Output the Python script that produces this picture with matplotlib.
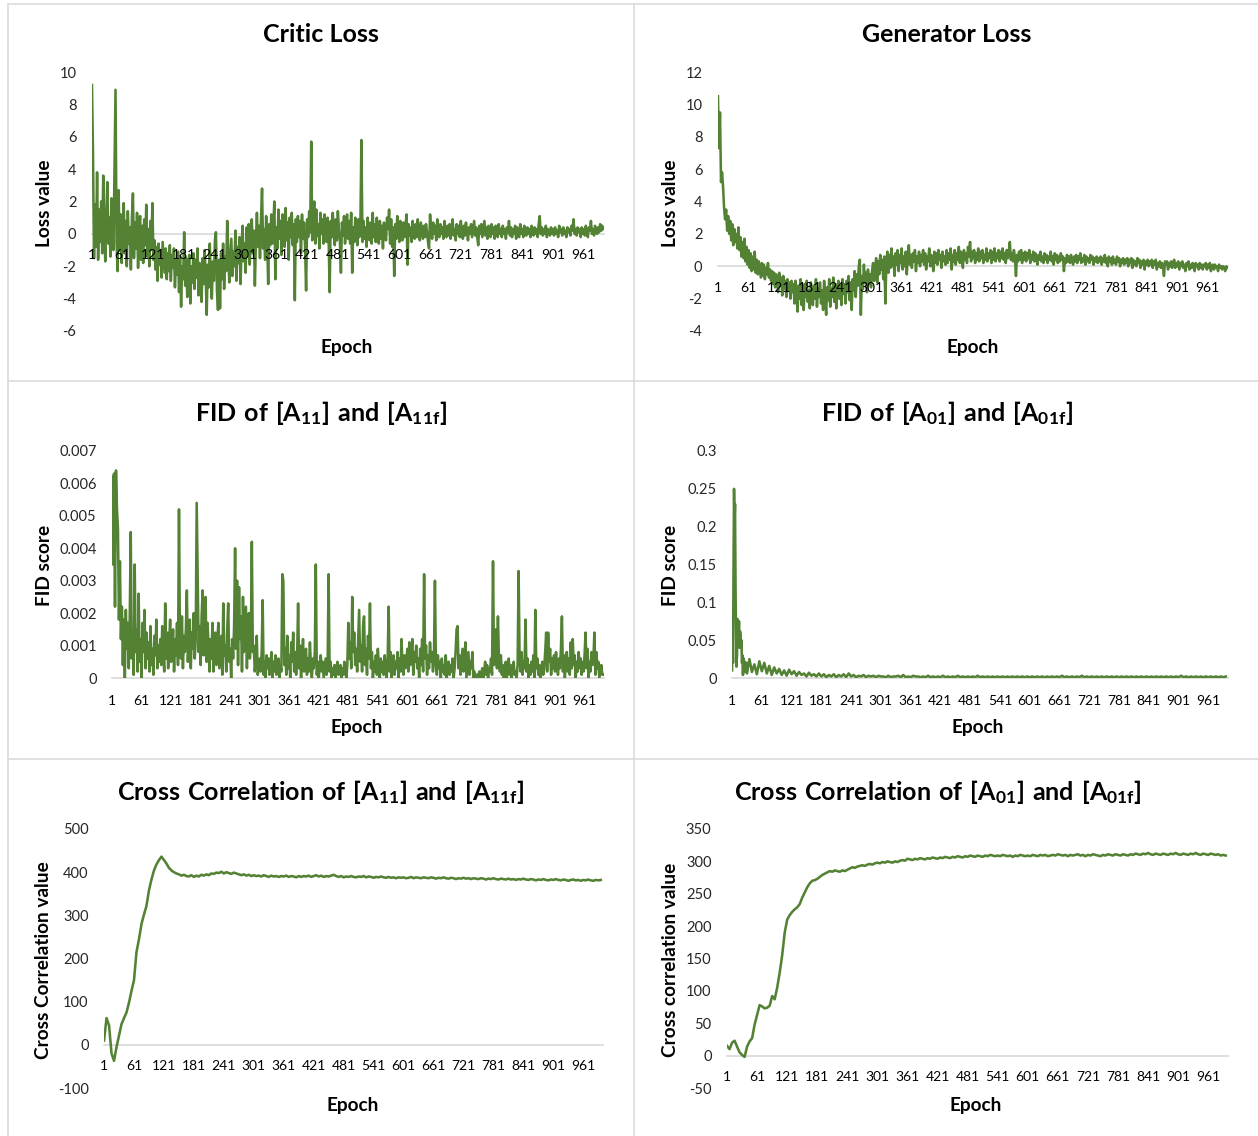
import matplotlib
matplotlib.use("Agg")
import matplotlib.pyplot as plt
from matplotlib.lines import Line2D

# ---------------- data ----------------
epochs2 = list(range(1, 1000, 2))         # noisy series sampled every 2 epochs (1, 3, ..., 999)
epochs5 = list(range(1, 1001, 5))         # smooth series sampled every 5 epochs (1, 6, ..., 996)
xtick_epochs = list(range(1, 1001, 60))   # 1, 61, ..., 961
xtick_labels = [str(e) for e in xtick_epochs]

critic_loss = [
    9.2, 5.0, -1.5, 1.8, -0.8, 3.8, -1.6, 1.5, -0.5, 2.0, -1.2, 3.6, 0.3, -1.7, 1.2, 3.2, -0.6, 1.0, -1.4, 2.2, 0.1, -1.0, 3.8, 8.9, -0.5,
    -2.3, 2.7, -1.0, 1.2, -1.8, 0.6, 1.9, -1.2, 0.8, -2.0, 1.4, -0.6, 0.4, -2.2, 1.0, 2.5, -1.5, 0.7, -0.9, 1.3, -2.1, 0.2, 1.1, -1.6, 0.5,
    -1.8, 0.9, -0.7, 1.8, -1.4, 0.3, -2.0, 0.8, -1.0, 1.9, -1.6, -0.4, -2.2, -0.8, -2.9, -0.6, -1.9, -1.0, -2.7, -0.5, -1.5, -2.4, -0.9, -2.8, -1.2,
    -2.3, -0.7, -2.9, -1.3, -2.1, -0.9, -3.3, -1.6, -2.5, -1.1, -3.6, -1.4, -4.5, -2.0, -2.8, 0.1, -3.2, -1.5, -3.9, -2.2, -1.3, -4.3, -2.0, -3.0, -1.2,
    -3.4, -1.6, -2.7, -0.9, -3.8, -1.8, -2.4, -4.2, -1.5, -3.1, -1.0, -2.6, -5.0, -1.9, -3.3, -0.6, -2.8, -4.0, -1.7, -2.9, -0.4, 0.1, -3.5, -4.7, -1.6,
    -4.6, -1.2, -2.8, -0.6, -3.4, -1.4, -2.3, 0.8, -1.0, -3.0, -1.6, -0.3, -2.6, -1.1, -2.0, 0.2, -2.9, -0.8, -1.8, -0.2, -3.1, -0.9, 0.5, -1.7, -0.6,
    -2.4, 0.4, -1.0, 0.6, -1.9, -0.3, 0.9, -1.2, 0.2, -3.2, -0.5, 1.3, -0.8, 0.5, -1.5, 0.9, 2.8, -0.9, 0.3, -1.6, 1.1, -0.4, -3.1, 0.6, -0.7,
    1.2, -0.6, 0.5, 2.0, -2.8, 0.4, -0.9, 1.5, -0.3, 0.8, -1.3, 1.2, 0.1, -0.8, 1.6, -0.4, 0.7, -1.6, 1.0, -0.2, 1.3, -0.7, 0.6, -4.1, 0.9,
    -0.5, 1.1, -0.2, 0.8, -1.2, 1.2, -0.3, 0.7, -0.8, -3.5, 0.9, -0.2, 1.4, 0.1, 5.7, -0.4, 1.2, 2.0, -0.6, 1.5, -0.1, 0.6, -0.9, 1.3, 0.0,
    0.9, -0.6, 1.2, 0.2, -0.5, 1.0, -0.3, -3.6, 0.8, -0.2, 1.3, 0.1, -0.7, 0.9, -0.4, 1.4, 0.3, -0.5, -2.4, 0.7, -0.1, 1.1, -0.6, 0.5, 1.2,
    -0.3, 0.8, -0.6, 1.3, -2.4, 0.4, -0.5, 1.0, 0.1, -0.7, 0.9, -0.2, 0.6, 5.8, -0.5, 0.8, -0.3, 0.4, -0.8, 1.0, 0.2, -0.4, 0.7, -0.6, 1.3,
    -0.2, 0.6, -0.5, 1.0, 0.0, -0.6, 0.8, -0.3, 0.5, -0.9, 0.7, 0.1, -0.4, 1.0, 0.3, 1.5, -0.6, 0.9, -0.8, 0.4, -2.6, 0.6, -0.3, 1.1, 0.2,
    -0.5, 0.8, 0.0, -0.4, 0.7, -0.2, 0.5, 1.2, -1.9, 0.6, -0.1, 0.4, -0.5, 0.8, 0.1, -0.3, 0.6, -0.2, 0.9, 0.0, -0.4, 0.7, 0.2, -0.3, 0.5,
    -0.2, 0.6, 0.1, -0.5, -0.9, 1.2, 0.2, -0.3, 0.7, 0.0, 0.5, -0.4, 0.9, 0.1, -0.2, 0.6, 0.0, 0.4, -0.3, 0.8, 0.1, -0.2, 0.5, -0.1, 0.6,
    -0.3, 0.4, 0.9, -0.1, 0.3, -0.4, 0.6, 0.0, 0.5, -0.2, 0.8, 0.1, -0.3, 0.5, -0.1, 0.7, 0.2, -0.4, 0.4, 0.0, 0.6, -0.2, 0.3, 0.8, -0.1,
    0.4, -0.2, -0.7, 0.5, 0.0, 0.6, -0.2, 0.3, 0.8, -0.1, 0.4, -0.3, 0.5, 0.1, -0.2, 0.6, 0.0, 0.4, -0.3, 0.5, 0.1, -0.2, 0.6, 0.0, 0.3,
    -0.2, 0.5, 0.0, 0.3, -0.3, 0.4, 0.1, 0.8, -0.1, 0.4, -0.2, 0.3, 0.0, 0.5, -0.3, 0.4, 0.1, -0.2, 0.6, 0.0, 0.3, -0.2, 0.5, 0.1, -0.1,
    0.4, 0.0, 0.3, -0.2, 0.5, 0.1, -0.1, 0.4, 0.0, 0.3, -0.2, 0.6, 1.1, 0.0, 0.4, -0.1, 0.3, 0.0, 0.5, -0.2, 0.3, 0.1, -0.1, 0.4, 0.0,
    0.3, -0.1, 0.4, 0.0, 0.2, -0.2, 0.5, 0.1, 0.3, -0.1, 0.4, 0.0, 0.2, -0.2, 0.4, 0.1, 0.3, -0.1, 0.5, 0.2, 0.9, 0.0, 0.3, -0.1, 0.4,
    0.1, 0.3, -0.2, 0.4, 0.0, 0.3, -0.1, 0.5, 0.1, -0.2, 0.4, 0.2, 0.8, 0.0, 0.3, -0.1, 0.5, 0.2, 0.0, 0.4, 0.1, 0.6, 0.2, 0.5, 0.3,
]

generator_loss = [
    10.5, 7.3, 9.5, 5.2, 5.8, 4.9, 3.6, 2.9, 3.5, 2.2, 3.1, 2.0, 2.8, 1.6, 2.6, 1.3, 2.3, 1.5, 2.0, 1.1, 2.4, 1.0, 1.8, 0.6, 1.5,
    0.5, 1.7, 0.3, 1.2, 0.1, 1.0, -0.1, 0.8, -0.3, 0.6, -0.2, 0.9, -0.4, 0.4, -0.5, 0.3, -0.2, -0.7, 0.2, -0.6, 0.1, -0.8, -0.1, -0.5, 0.2,
    -0.7, -0.2, -0.9, -0.3, -1.1, -0.4, -1.3, -0.5, -0.9, -1.6, -0.4, -1.2, -0.7, -1.8, -0.6, -1.4, -0.9, -1.9, -0.8, -1.5, -1.0, -2.0, -0.9, -1.6, -1.1,
    -2.3, -0.9, -1.7, -2.8, -1.2, -2.0, -0.8, -2.4, -1.3, -2.7, -1.1, -1.9, -0.9, -2.2, -1.5, -2.6, -1.0, -1.8, -2.4, -1.2, -2.0, -0.8, -2.5, -1.4, -1.9,
    -1.0, -2.3, -1.5, -2.7, -0.9, -1.8, -3.0, -1.3, -2.1, -0.8, -2.5, -1.4, -1.9, -0.7, -2.2, -1.1, -2.6, -1.5, -0.9, -2.0, -1.2, -2.4, -0.8, -1.7, -1.1,
    -2.3, -0.9, -1.6, -0.6, -2.1, -1.0, -2.7, -0.8, -1.5, -0.3, -1.9, -0.5, -1.2, 0.0, 0.4, -3.0, -0.6, -1.4, 0.1, -1.0, -0.4, -1.6, -0.2, -1.1, -0.5,
    -1.3, -0.3, 0.2, -0.9, -0.1, 0.5, -1.0, 0.3, -0.5, 0.7, -0.2, 0.4, -0.8, 0.6, -2.3, 0.2, 0.9, -0.4, 0.7, -0.1, 1.1, 0.0, 0.6, -0.6, 0.8,
    0.1, 1.0, -0.3, 0.7, 0.2, 1.1, -0.2, 0.6, 0.0, 0.9, -0.5, 0.5, 1.3, 0.1, 0.7, -0.1, 0.8, 0.3, 1.0, -0.3, 0.6, 0.2, 0.9, 0.0, 0.7,
    0.3, 1.0, 0.1, 0.8, -0.2, 0.6, 0.3, 1.1, 0.0, 0.7, 0.4, -0.3, 0.9, 0.2, 0.8, 0.1, 1.0, 0.4, 0.7, -0.1, 0.9, 0.3, 0.6, 0.1, 1.0,
    0.2, 0.8, 0.4, 1.1, -0.2, 0.7, 0.3, 1.0, 0.1, 0.8, 0.4, 1.2, 0.2, 0.9, 0.5, -0.1, 1.0, 0.4, 0.8, 0.2, 1.2, 0.6, 1.5, 0.3, 0.9,
    0.5, 1.0, 0.2, 0.8, 0.4, 1.1, 0.3, 0.9, 0.5, 1.0, 0.2, 0.7, 0.4, 1.1, 0.3, 0.8, 0.5, 1.0, 0.2, 0.9, 0.4, 1.1, 0.3, 0.8, 0.5,
    1.0, 0.3, 0.9, 0.5, 1.1, 0.4, 0.8, 0.2, 1.0, 0.5, 0.9, 1.5, 0.4, 0.8, 0.3, 1.0, 0.5, -0.6, 0.7, 0.3, 0.9, 0.4, 1.0, 0.2, 0.8,
    0.4, 0.9, 0.3, 0.8, 0.5, 1.0, 0.2, 0.7, 0.4, 0.9, 0.3, 0.8, 0.5, 0.1, 0.7, 0.4, 0.9, 0.3, 0.6, 0.2, 0.8, 0.4, 0.7, 0.2, 0.6,
    0.4, 0.9, 0.3, 0.6, 0.1, 0.8, 0.4, 0.7, 0.2, 0.6, 0.3, 0.8, 0.4, 0.6, -0.3, 0.5, 0.2, 0.7, 0.3, 0.6, 0.2, 0.7, 0.4, 0.1, 0.6,
    0.3, 0.7, 0.2, 0.6, 0.4, 0.8, 0.2, 0.5, 0.3, 0.7, 0.1, 0.6, 0.3, 0.5, 0.2, 0.7, 0.4, 0.6, 0.1, 0.5, 0.3, 0.6, 0.2, 0.5, 0.3,
    0.6, 0.1, 0.5, 0.3, 0.7, 0.2, 0.5, 0.0, 0.6, 0.3, 0.5, 0.1, 0.6, 0.2, 0.4, 0.1, 0.6, 0.3, 0.5, 0.0, 0.4, 0.2, 0.5, 0.1, 0.4,
    0.2, 0.5, 0.0, 0.4, 0.2, 0.5, -0.1, 0.4, 0.1, 0.3, 0.0, 0.5, 0.2, 0.4, -0.1, 0.3, 0.1, 0.4, -0.2, 0.3, 0.1, 0.4, 0.0, 0.3, 0.1,
    0.4, -0.1, 0.3, 0.1, 0.4, -0.2, 0.2, 0.0, 0.3, -0.1, 0.2, 0.0, -0.6, 0.3, 0.1, 0.3, -0.2, 0.2, 0.0, 0.3, -0.1, 0.2, 0.4, -0.1, 0.2,
    0.0, 0.3, -0.2, 0.2, 0.0, 0.3, -0.1, 0.1, -0.3, 0.2, 0.0, 0.3, -0.2, 0.1, -0.1, 0.2, 0.0, -0.3, 0.2, 0.0, 0.1, -0.2, 0.2, -0.1, 0.1,
    -0.2, 0.1, 0.0, 0.2, -0.2, 0.1, -0.1, 0.2, -0.3, 0.0, 0.1, -0.2, 0.1, -0.1, 0.0, -0.3, 0.1, -0.1, 0.0, -0.2, 0.0, -0.1, -0.3, 0.0, -0.1,
]

fid_a11 = [
    0.0062, 0.0035, 0.0063, 0.0022, 0.0064, 0.0052, 0.0046, 0.0018, 0.0036, 0.0012, 0.0022, 0.0004, 0.0018, 0.0000, 0.0021, 0.0009, 0.0017, 0.0003, 0.0019, 0.0045, 0.0006, 0.0014, 0.0001, 0.0035, 0.0008,
    0.0015, 0.0002, 0.0026, 0.0005, 0.0012, 0.0000, 0.0017, 0.0008, 0.0021, 0.0003, 0.0014, 0.0006, 0.0011, 0.0002, 0.0016, 0.0004, 0.0009, 0.0001, 0.0013, 0.0007, 0.0018, 0.0003, 0.0010, 0.0005, 0.0012,
    0.0004, 0.0016, 0.0008, 0.0002, 0.0023, 0.0006, 0.0014, 0.0003, 0.0011, 0.0018, 0.0005, 0.0009, 0.0015, 0.0002, 0.0012, 0.0007, 0.0017, 0.0004, 0.0052, 0.0010, 0.0006, 0.0019, 0.0003, 0.0013, 0.0008,
    0.0015, 0.0027, 0.0005, 0.0011, 0.0018, 0.0003, 0.0014, 0.0009, 0.0020, 0.0006, 0.0012, 0.0054, 0.0032, 0.0008, 0.0016, 0.0004, 0.0019, 0.0027, 0.0007, 0.0013, 0.0025, 0.0005, 0.0017, 0.0010, 0.0002,
    0.0012, 0.0006, 0.0017, 0.0002, 0.0009, 0.0014, 0.0004, 0.0011, 0.0017, 0.0003, 0.0008, 0.0013, 0.0001, 0.0023, 0.0007, 0.0010, 0.0002, 0.0015, 0.0023, 0.0005, 0.0009, 0.0000, 0.0012, 0.0006, 0.0016,
    0.0040, 0.0009, 0.0030, 0.0004, 0.0028, 0.0012, 0.0019, 0.0002, 0.0025, 0.0008, 0.0015, 0.0022, 0.0003, 0.0017, 0.0020, 0.0006, 0.0011, 0.0042, 0.0008, 0.0010, 0.0002, 0.0005, 0.0013, 0.0001, 0.0003,
    0.0006, 0.0002, 0.0008, 0.0024, 0.0001, 0.0005, 0.0000, 0.0007, 0.0003, 0.0006, 0.0001, 0.0004, 0.0008, 0.0000, 0.0005, 0.0002, 0.0007, 0.0001, 0.0003, 0.0006, 0.0000, 0.0004, 0.0002, 0.0032, 0.0030,
    0.0004, 0.0009, 0.0001, 0.0013, 0.0003, 0.0007, 0.0000, 0.0011, 0.0005, 0.0014, 0.0002, 0.0008, 0.0001, 0.0006, 0.0023, 0.0003, 0.0010, 0.0000, 0.0007, 0.0012, 0.0002, 0.0005, 0.0009, 0.0001, 0.0006,
    0.0002, 0.0011, 0.0004, 0.0000, 0.0006, 0.0003, 0.0008, 0.0035, 0.0001, 0.0005, 0.0000, 0.0004, 0.0007, 0.0002, 0.0005, 0.0000, 0.0003, 0.0006, 0.0001, 0.0004, 0.0032, 0.0002, 0.0005, 0.0000, 0.0003,
    0.0001, 0.0004, 0.0000, 0.0003, 0.0005, 0.0001, 0.0002, 0.0004, 0.0000, 0.0003, 0.0001, 0.0005, 0.0002, 0.0000, 0.0004, 0.0017, 0.0006, 0.0011, 0.0003, 0.0025, 0.0008, 0.0014, 0.0004, 0.0009, 0.0002,
    0.0012, 0.0021, 0.0005, 0.0010, 0.0002, 0.0016, 0.0019, 0.0004, 0.0009, 0.0001, 0.0013, 0.0006, 0.0023, 0.0003, 0.0008, 0.0000, 0.0005, 0.0002, 0.0007, 0.0001, 0.0009, 0.0004, 0.0000, 0.0006, 0.0002,
    0.0005, 0.0001, 0.0007, 0.0003, 0.0000, 0.0006, 0.0022, 0.0002, 0.0008, 0.0000, 0.0004, 0.0007, 0.0001, 0.0005, 0.0003, 0.0008, 0.0000, 0.0006, 0.0002, 0.0012, 0.0004, 0.0001, 0.0007, 0.0003, 0.0005,
    0.0009, 0.0002, 0.0011, 0.0004, 0.0007, 0.0012, 0.0001, 0.0008, 0.0005, 0.0010, 0.0003, 0.0006, 0.0000, 0.0009, 0.0004, 0.0012, 0.0002, 0.0032, 0.0006, 0.0010, 0.0001, 0.0007, 0.0003, 0.0011, 0.0005,
    0.0008, 0.0002, 0.0006, 0.0030, 0.0004, 0.0001, 0.0007, 0.0003, 0.0005, 0.0000, 0.0006, 0.0002, 0.0004, 0.0001, 0.0007, 0.0000, 0.0003, 0.0005, 0.0001, 0.0004, 0.0002, 0.0006, 0.0000, 0.0003, 0.0008,
    0.0015, 0.0016, 0.0003, 0.0007, 0.0001, 0.0005, 0.0009, 0.0002, 0.0006, 0.0011, 0.0000, 0.0004, 0.0008, 0.0001, 0.0005, 0.0003, 0.0008, 0.0000, 0.0002, 0.0001, 0.0000, 0.0001, 0.0000, 0.0002, 0.0000,
    0.0001, 0.0003, 0.0000, 0.0002, 0.0005, 0.0001, 0.0004, 0.0000, 0.0003, 0.0002, 0.0006, 0.0001, 0.0036, 0.0004, 0.0008, 0.0015, 0.0003, 0.0019, 0.0006, 0.0002, 0.0007, 0.0001, 0.0004, 0.0000, 0.0003,
    0.0005, 0.0000, 0.0002, 0.0006, 0.0001, 0.0004, 0.0000, 0.0003, 0.0005, 0.0001, 0.0002, 0.0000, 0.0004, 0.0033, 0.0006, 0.0002, 0.0008, 0.0001, 0.0005, 0.0003, 0.0018, 0.0002, 0.0006, 0.0000, 0.0004,
    0.0001, 0.0005, 0.0002, 0.0007, 0.0000, 0.0021, 0.0003, 0.0006, 0.0001, 0.0004, 0.0000, 0.0002, 0.0005, 0.0001, 0.0003, 0.0008, 0.0014, 0.0002, 0.0014, 0.0005, 0.0009, 0.0001, 0.0006, 0.0003, 0.0007,
    0.0002, 0.0008, 0.0004, 0.0001, 0.0006, 0.0003, 0.0009, 0.0019, 0.0002, 0.0007, 0.0000, 0.0005, 0.0008, 0.0002, 0.0006, 0.0001, 0.0011, 0.0003, 0.0012, 0.0004, 0.0007, 0.0000, 0.0005, 0.0002, 0.0008,
    0.0003, 0.0006, 0.0001, 0.0005, 0.0002, 0.0007, 0.0014, 0.0003, 0.0009, 0.0000, 0.0005, 0.0002, 0.0008, 0.0004, 0.0006, 0.0014, 0.0001, 0.0008, 0.0003, 0.0005, 0.0000, 0.0002, 0.0004, 0.0001, 0.0001,
]

fid_a01_epochs = list(range(1, 31)) + list(range(31, 1001, 5))
fid_a01 = [
    # epochs 1-30
    0.010, 0.060, 0.020, 0.150, 0.250, 0.204, 0.230, 0.125, 0.060, 0.015,
    0.030, 0.078, 0.070, 0.055, 0.075, 0.040, 0.062, 0.058, 0.041, 0.050,
    0.020, 0.030, 0.004, 0.026, 0.012, 0.022, 0.008, 0.018, 0.010, 0.020,
    # epochs 31-996, every 5
    0.006, 0.025, 0.008, 0.018, 0.005, 0.022, 0.009, 0.020, 0.006, 0.016,
    0.004, 0.014, 0.006, 0.012, 0.004, 0.010, 0.003, 0.011, 0.005, 0.009,
    0.003, 0.008, 0.004, 0.006, 0.002, 0.007, 0.003, 0.005, 0.002, 0.006,
    0.002, 0.005, 0.001, 0.004, 0.002, 0.005, 0.001, 0.004, 0.002, 0.005,
    0.001, 0.006, 0.002, 0.004, 0.001, 0.003, 0.002, 0.004, 0.001, 0.003,
    0.002, 0.003, 0.001, 0.003, 0.002, 0.002, 0.001, 0.003, 0.001, 0.002,
    0.002, 0.003, 0.001, 0.004, 0.001, 0.002, 0.001, 0.003, 0.002, 0.002,
    0.001, 0.002, 0.001, 0.003, 0.001, 0.002, 0.001, 0.002, 0.001, 0.003,
    0.001, 0.002, 0.001, 0.002, 0.001, 0.003, 0.001, 0.002, 0.001, 0.002,
    0.001, 0.002, 0.001, 0.003, 0.001, 0.002, 0.001, 0.002, 0.001, 0.002,
    0.001, 0.002, 0.001, 0.002, 0.001, 0.002, 0.001, 0.002, 0.001, 0.002,
    0.001, 0.002, 0.001, 0.002, 0.001, 0.002, 0.001, 0.002, 0.001, 0.002,
    0.001, 0.002, 0.001, 0.002, 0.001, 0.002, 0.001, 0.003, 0.001, 0.002,
    0.001, 0.002, 0.001, 0.002, 0.001, 0.003, 0.001, 0.002, 0.001, 0.002,
    0.001, 0.002, 0.001, 0.002, 0.001, 0.002, 0.001, 0.002, 0.001, 0.002,
    0.001, 0.002, 0.001, 0.002, 0.001, 0.002, 0.001, 0.002, 0.001, 0.002,
    0.001, 0.002, 0.001, 0.002, 0.001, 0.002, 0.001, 0.002, 0.001, 0.002,
    0.001, 0.002, 0.001, 0.002, 0.001, 0.003, 0.001, 0.002, 0.001, 0.002,
    0.001, 0.002, 0.001, 0.002, 0.001, 0.002, 0.001, 0.002, 0.001, 0.002,
    0.001, 0.002, 0.001, 0.002,
]

cc_a11 = [
    10, 62, 45, -20, -37, -5, 22, 48, 62, 75,
    98, 125, 150, 215, 245, 280, 302, 322, 358, 383,
    404, 418, 428, 436, 428, 420, 410, 404, 400, 397,
    395, 392, 394, 391, 390, 393, 389, 392, 390, 394,
    392, 395, 393, 397, 396, 399, 398, 401, 397, 400,
    398, 396, 399, 397, 395, 393, 395, 392, 394, 391,
    393, 391, 392, 390, 393, 391, 389, 392, 390, 391,
    389, 391, 390, 392, 389, 391, 390, 388, 391, 389,
    391, 390, 392, 389, 391, 393, 390, 392, 389, 391,
    390, 392, 394, 391, 389, 391, 388, 390, 389, 391,
    389, 388, 390, 389, 391, 388, 390, 389, 387, 389,
    388, 390, 388, 387, 389, 387, 388, 386, 388, 387,
    388, 386, 387, 389, 386, 388, 387, 386, 388, 387,
    386, 388, 387, 385, 387, 386, 388, 386, 385, 387,
    386, 384, 386, 385, 387, 385, 386, 384, 386, 385,
    384, 386, 385, 383, 385, 384, 386, 384, 383, 385,
    384, 383, 385, 383, 384, 382, 384, 383, 385, 383,
    382, 384, 383, 381, 383, 382, 384, 382, 381, 383,
    382, 384, 382, 381, 383, 382, 380, 382, 383, 381,
    382, 380, 382, 381, 383, 381, 380, 382, 381, 382,
]

cc_a01 = [
    15, 10, 20, 23, 14, 5, 1, -2, 14, 22,
    27, 48, 63, 78, 76, 73, 74, 77, 92, 87,
    105, 128, 155, 190, 210, 217, 222, 226, 229, 234,
    244, 252, 260, 266, 270, 271, 273, 276, 279, 281,
    283, 285, 284, 286, 285, 284, 286, 285, 287, 289,
    291, 290, 292, 293, 294, 293, 295, 296, 295, 297,
    298, 297, 299, 298, 300, 299, 298, 300, 299, 301,
    302, 301, 304, 303, 302, 304, 303, 305, 304, 303,
    305, 304, 306, 305, 304, 306, 305, 307, 306, 305,
    307, 306, 308, 307, 306, 308, 307, 309, 308, 307,
    309, 308, 307, 309, 308, 310, 309, 308, 309, 308,
    310, 309, 308, 309, 307, 309, 308, 310, 309, 308,
    309, 308, 310, 309, 308, 310, 309, 310, 308, 309,
    310, 309, 311, 310, 309, 310, 308, 310, 309, 310,
    311, 309, 310, 308, 310, 309, 311, 310, 309, 308,
    310, 309, 311, 310, 309, 311, 310, 309, 311, 310,
    309, 311, 310, 312, 311, 310, 312, 311, 313, 311,
    310, 312, 311, 310, 312, 311, 310, 312, 311, 313,
    311, 310, 312, 311, 310, 312, 311, 313, 311, 310,
    312, 311, 310, 312, 311, 310, 311, 309, 310, 309,
]

critic_yticks = [-6, -4, -2, 0, 2, 4, 6, 8, 10]
gen_yticks = [-4, -2, 0, 2, 4, 6, 8, 10, 12]
fid11_yticks = [0, 0.001, 0.002, 0.003, 0.004, 0.005, 0.006, 0.007]
fid11_ylabels = ["0", "0.001", "0.002", "0.003", "0.004", "0.005", "0.006", "0.007"]
fid01_yticks = [0, 0.05, 0.1, 0.15, 0.2, 0.25, 0.3]
fid01_ylabels = ["0", "0.05", "0.1", "0.15", "0.2", "0.25", "0.3"]
cc11_yticks = [-100, 0, 100, 200, 300, 400, 500]
cc01_yticks = [-50, 0, 50, 100, 150, 200, 250, 300, 350]

# ---------------- style ----------------
W, H = 1258, 1136
SANS = "Lato"
SERIF = "Liberation Serif"
plt.rcParams["font.family"] = [SANS, "DejaVu Sans"]
plt.rcParams["mathtext.fontset"] = "custom"
plt.rcParams["mathtext.rm"] = SANS
plt.rcParams["mathtext.bf"] = SANS + ":bold"

LINE = "#548235"
GRID = "#d9d9d9"
TICKC = "#262626"

fig = plt.figure(figsize=(W / 100, H / 100), dpi=100)
fig.patch.set_facecolor("white")


def fx(x):
    return x / W


def fy(y):
    return 1 - y / H


# panel borders
for (x0, y0, x1, y1) in [
    (8, 4, 8, H), (8, 4, W, 4), (634, 4, 634, H),
    (8, 381, W, 381), (8, 759, W, 759),
]:
    fig.add_artist(Line2D([fx(x0), fx(x1)], [fy(y0), fy(y1)],
                          color="#dcdcdc", lw=1.2, transform=fig.transFigure))


def make_panel(rect_px, xs, ys, yticks, ylabels, ylim, title, ylabel,
               title_xy, ylabel_xy, xlabel_xy, xpad):
    l, t, r, b = rect_px
    n = min(len(xs), len(ys))
    ax = fig.add_axes([fx(l), fy(b), fx(r - l), (b - t) / H])
    ax.plot(xs[:n], ys[:n], color=LINE, lw=1.85, zorder=2)
    ax.set_xlim(0.5, 1000.5)
    ax.set_ylim(*ylim)
    ax.set_yticks(yticks)
    ax.set_yticklabels(ylabels if ylabels is not None else [str(v) for v in yticks],
                       fontsize=10.5, color=TICKC, family=SANS)
    ax.set_xticks(xtick_epochs)
    ax.set_xticklabels(xtick_labels, fontsize=11, color=TICKC, family=SERIF)
    for s in ("top", "right", "left"):
        ax.spines[s].set_visible(False)
    ax.spines["bottom"].set_position(("data", 0))
    ax.spines["bottom"].set_color(GRID)
    ax.spines["bottom"].set_linewidth(1.2)
    ax.spines["bottom"].set_zorder(1)
    ax.xaxis.set_zorder(3)
    ax.tick_params(axis="both", length=0)
    ax.tick_params(axis="x", pad=xpad)
    ax.tick_params(axis="y", pad=11)
    ax.patch.set_alpha(0)
    fig.text(fx(title_xy[0]), fy(title_xy[1]), title, ha="center", va="center",
             fontsize=18, fontweight="bold", color="black")
    fig.text(fx(ylabel_xy[0]), fy(ylabel_xy[1]), ylabel, ha="center", va="center",
             rotation=90, fontsize=13.7, fontweight="bold", color="black")
    fig.text(fx(xlabel_xy[0]), fy(xlabel_xy[1]), "Epoch", ha="center", va="center",
             fontsize=13.7, fontweight="bold", color="black")
    return ax


make_panel((91.7, 72, 604, 331), epochs2, critic_loss, critic_yticks, None, (-6, 10),
           "Critic Loss", "Loss value", (321, 35), (44, 203), (347, 348), 11)
make_panel((717.7, 72, 1228, 331), epochs2, generator_loss, gen_yticks, None, (-4, 12),
           "Generator Loss", "Loss value", (947, 35), (671, 203), (973, 348), 11)
make_panel((111.8, 451, 604, 678), epochs2, fid_a11, fid11_yticks, fid11_ylabels, (0, 0.007),
           r"$\mathbf{FID\ of\ [A_{11}]\ and\ [A_{11f}]}$", "FID score",
           (321, 413), (44, 565), (357, 727), 12)
make_panel((731.8, 451, 1228, 678), fid_a01_epochs, fid_a01, fid01_yticks, fid01_ylabels, (0, 0.3),
           r"$\mathbf{FID\ of\ [A_{01}]\ and\ [A_{01f}]}$", "FID score",
           (947, 413), (671, 565), (978, 727), 12)
make_panel((103.8, 829, 603, 1088), epochs5, cc_a11, cc11_yticks, None, (-100, 500),
           r"$\mathbf{Cross\ Correlation\ of\ [A_{11}]\ and\ [A_{11f}]}$",
           "Cross Correlation value", (321, 792), (44, 960), (353, 1105), 11)
make_panel((726.8, 829, 1228, 1088), epochs5, cc_a01, cc01_yticks, None, (-50, 350),
           r"$\mathbf{Cross\ Correlation\ of\ [A_{01}]\ and\ [A_{01f}]}$",
           "Cross correlation value", (938, 792), (671, 960), (976, 1105), 11)

fig.savefig("out.png", dpi=100, facecolor="white")
